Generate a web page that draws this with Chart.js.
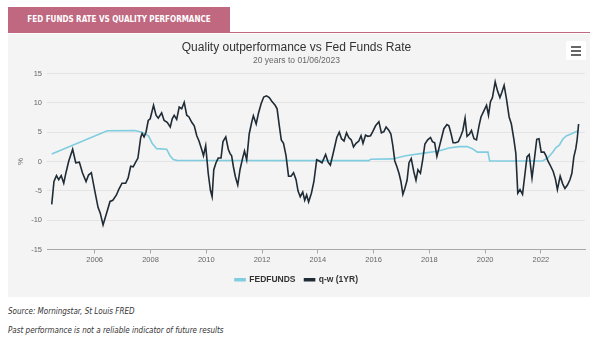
<!DOCTYPE html>
<html>
<head>
<meta charset="utf-8">
<script src="https://cdn.jsdelivr.net/npm/chart.js@4.4.0/dist/chart.umd.min.js"></script>
<style>
  html, body { margin: 0; padding: 0; background: #fff; }
  body { width: 600px; height: 349px; position: relative; overflow: hidden; font-family: "Liberation Sans", Arial, sans-serif; }
  .tab {
    position: absolute; left: 8px; top: 7px; width: 222px; height: 25px;
    background: #c0687f; color: #fff;
    font-family: "Liberation Sans Narrow", "DejaVu Sans Condensed", sans-serif;
    font-weight: bold; font-size: 8px; line-height: 25px; text-align: center;
  }
  .rule { position: absolute; left: 8px; top: 32px; width: 582px; height: 1px; background: #c0687f; }
  .panel { position: absolute; left: 8px; top: 34px; width: 582px; height: 263px; background: #f4f4f4; }
  .menu {
    position: absolute; left: 566px; top: 41px; width: 20px; height: 19px;
    background: #fff; border-radius: 2px;
  }
  .menu span { position: absolute; left: 5px; width: 10px; height: 2px; background: #666; }
  .note {
    position: absolute; left: 8px; font-style: italic; color: #333;
    font-family: "Liberation Sans Narrow", "DejaVu Sans Condensed", sans-serif; font-size: 8px;
  }
</style>
</head>
<body>
<div class="tab">FED FUNDS RATE VS QUALITY PERFORMANCE</div>
<div class="rule"></div>
<div class="panel"><canvas id="rate-chart"></canvas></div>
<div class="menu"><span style="top:5px"></span><span style="top:9px"></span><span style="top:13px"></span></div>
<div class="note" style="top:307px">Source: Morningstar, St Louis FRED</div>
<div class="note" style="top:326px">Past performance is not a reliable indicator of future results</div>

<script>
// q-w (1YR): quality minus world, rolling 1 year, %
var qwYears = [
    2004.46, 2004.54, 2004.63, 2004.71, 2004.80, 2004.89, 2004.97, 2005.07, 2005.21, 2005.32,
    2005.45, 2005.56, 2005.69, 2005.78, 2005.88, 2006.00, 2006.12, 2006.20, 2006.30, 2006.42,
    2006.55, 2006.65, 2006.78, 2006.86, 2006.98, 2007.11, 2007.20, 2007.29, 2007.38, 2007.46,
    2007.55, 2007.65, 2007.70, 2007.77, 2007.84, 2007.92, 2007.99, 2008.11, 2008.20, 2008.28,
    2008.40, 2008.49, 2008.60, 2008.71, 2008.78, 2008.85, 2008.94, 2009.03, 2009.12, 2009.21,
    2009.30, 2009.38, 2009.48, 2009.57, 2009.66, 2009.74, 2009.84, 2009.90, 2009.98, 2010.07,
    2010.15, 2010.21, 2010.27, 2010.35, 2010.43, 2010.53, 2010.60, 2010.70, 2010.79, 2010.85,
    2010.91, 2010.97, 2011.04, 2011.13, 2011.21, 2011.30, 2011.37, 2011.45, 2011.54, 2011.63,
    2011.69, 2011.79, 2011.87, 2011.97, 2012.06, 2012.16, 2012.26, 2012.35, 2012.47, 2012.54,
    2012.62, 2012.69, 2012.77, 2012.86, 2012.95, 2013.04, 2013.13, 2013.22, 2013.29, 2013.37,
    2013.46, 2013.53, 2013.60, 2013.67, 2013.77, 2013.86, 2013.96, 2014.05, 2014.15, 2014.28,
    2014.37, 2014.45, 2014.57, 2014.68, 2014.77, 2014.85, 2014.94, 2015.03, 2015.11, 2015.20,
    2015.28, 2015.37, 2015.47, 2015.55, 2015.62, 2015.71, 2015.80, 2015.89, 2015.97, 2016.07,
    2016.19, 2016.28, 2016.37, 2016.45, 2016.55, 2016.62, 2016.69, 2016.76, 2016.83, 2016.91,
    2016.98, 2017.05, 2017.12, 2017.20, 2017.27, 2017.35, 2017.44, 2017.52, 2017.59, 2017.68,
    2017.76, 2017.84, 2017.94, 2018.04, 2018.11, 2018.19, 2018.27, 2018.34, 2018.43, 2018.52,
    2018.63, 2018.70, 2018.78, 2018.85, 2018.94, 2019.04, 2019.13, 2019.20, 2019.28, 2019.35,
    2019.44, 2019.51, 2019.60, 2019.69, 2019.78, 2019.85, 2019.95, 2020.05, 2020.12, 2020.19,
    2020.26, 2020.36, 2020.44, 2020.53, 2020.60, 2020.68, 2020.76, 2020.86, 2020.94, 2021.03,
    2021.10, 2021.17, 2021.25, 2021.34, 2021.43, 2021.50, 2021.58, 2021.68, 2021.75, 2021.85,
    2021.93, 2022.01, 2022.11, 2022.18, 2022.25, 2022.35, 2022.44, 2022.52, 2022.59, 2022.69,
    2022.78, 2022.86, 2022.95, 2023.04, 2023.11, 2023.18, 2023.25, 2023.30, 2023.35
];
var qwValues = [
    -7.3, -3.4, -2.4, -3.1, -2.4, -3.7, -1.9, 0.1, 2.1, -0.2,
    -0.1, -1.9, -3.4, -2.3, -1.9, -4.9, -7.8, -8.8, -10.8, -8.9,
    -6.8, -6.6, -5.7, -4.8, -3.7, -3.7, -2.8, -0.8, -0.9, -0.2,
    0.6, 4.1, 4.8, 4.2, 5.0, 7.0, 7.3, 9.6, 7.9, 7.4,
    8.3, 7.0, 6.7, 5.9, 7.3, 7.9, 7.2, 9.3, 9.0, 10.1,
    7.9, 7.6, 6.7, 6.1, 4.4, 3.5, 2.0, 1.0, 2.7, -2.0,
    -4.9, -6.0, -1.4, -0.2, 0.6, 0.6, 3.4, 4.2, 2.1, 1.4,
    1.0, -0.8, -2.5, -4.0, -1.4, 0.5, 1.8, 0.3, 4.7, 6.7,
    7.8, 6.4, 8.2, 9.9, 11.0, 11.2, 10.9, 10.3, 9.6, 9.0,
    6.1, 3.7, 3.1, 1.0, -2.5, -2.5, -1.9, -3.1, -5.0, -6.0,
    -5.2, -6.6, -5.7, -6.9, -5.4, -3.4, 0.3, 0.1, -0.2, 1.2,
    -0.1, -0.6, 1.8, 4.1, 5.0, 3.9, 3.5, 4.9, 4.1, 3.7,
    2.5, 3.1, 3.5, 4.4, 3.1, 4.5, 4.3, 4.4, 5.1, 6.1,
    6.8, 4.9, 5.1, 5.9, 5.3, 4.7, 2.7, 0.1, -0.8, -2.0,
    -3.4, -5.6, -4.6, -3.2, -0.2, 0.5, -1.7, -3.2, -1.4, -2.0,
    0.3, 3.0, 3.7, 4.1, 3.4, 3.2, 0.9, 2.2, 3.9, 5.6,
    6.3, 6.1, 4.7, 3.2, 3.2, 3.4, 4.4, 5.3, 7.4, 4.3,
    4.7, 5.3, 3.9, 3.7, 6.1, 7.6, 8.6, 9.6, 7.9, 10.2,
    10.9, 13.6, 12.1, 10.9, 11.8, 13.0, 10.8, 7.6, 6.4, 3.8,
    1.4, -5.4, -4.8, -5.6, -2.0, 0.8, 1.2, -2.8, -0.2, 3.8,
    3.9, 1.6, 1.6, 1.0, 0.1, -0.8, -1.7, -3.0, -4.8, -2.5,
    -3.8, -4.6, -4.0, -3.1, -2.0, 0.8, 2.2, 3.8, 6.4
];

// Effective Fed Funds rate, %
var fedYears = [
    2004.46, 2006.45, 2007.44, 2007.62, 2007.80, 2007.94, 2008.06, 2008.22, 2008.58, 2008.70,
    2008.82, 2008.94, 2015.83, 2015.90, 2016.67, 2017.15, 2017.74, 2018.34, 2018.70, 2019.06,
    2019.36, 2019.54, 2019.72, 2020.10, 2020.16, 2022.06, 2022.24, 2022.42, 2022.54, 2022.66,
    2022.78, 2022.92, 2023.08, 2023.35
];
var fedValues = [
    1.3, 5.25, 5.3, 5.1, 4.8, 4.3, 3.1, 2.2, 2.1, 1.0,
    0.35, 0.2, 0.15, 0.4, 0.45, 1.0, 1.4, 1.8, 2.3, 2.55,
    2.55, 2.2, 1.6, 1.6, 0.1, 0.1, 0.6, 1.6, 2.4, 2.8,
    3.8, 4.4, 4.7, 5.3
];

var yearTicks = [2006, 2008, 2010, 2012, 2014, 2016, 2018, 2020, 2022];

function toPoints(xs, ys) {
    var pts = [];
    for (var i = 0; i < xs.length; i++) {
        pts.push({ x: xs[i], y: ys[i] });
    }
    return pts;
}

var fedColor = '#80cde0',
    qwColor = '#1f2b35';

var rateChart = new Chart(document.getElementById('rate-chart'), {
    type: 'line',
    data: {
        datasets: [
            {
                label: 'FEDFUNDS',
                data: toPoints(fedYears, fedValues),
                borderColor: fedColor,
                backgroundColor: fedColor,
                borderWidth: 1.6,
                pointRadius: 0,
                tension: 0,
                order: 1
            },
            {
                label: 'q-w (1YR)',
                data: toPoints(qwYears, qwValues),
                borderColor: qwColor,
                backgroundColor: qwColor,
                borderWidth: 1.6,
                pointRadius: 0,
                tension: 0,
                order: 0
            }
        ]
    },
    options: {
        responsive: true,
        maintainAspectRatio: false,
        animation: false,
        layout: { padding: { left: 0, right: 5, top: 0, bottom: 3 } },
        plugins: {
            title: {
                display: true,
                text: 'Quality outperformance vs Fed Funds Rate',
                color: '#333',
                font: { family: '"Liberation Sans", Arial, sans-serif', size: 12, weight: 'normal' },
                padding: { top: 6, bottom: 1 }
            },
            subtitle: {
                display: true,
                text: '20 years to 01/06/2023',
                color: '#666',
                font: { family: '"Liberation Sans", Arial, sans-serif', size: 8.5 },
                padding: { top: 0, bottom: 8 }
            },
            legend: {
                position: 'bottom',
                labels: {
                    boxWidth: 10,
                    boxHeight: 2,
                    color: '#333',
                    font: { family: '"Liberation Sans", Arial, sans-serif', size: 8.5, weight: 'bold' },
                    padding: 9,
                    sort: function (a, b) { return a.datasetIndex - b.datasetIndex; }
                }
            },
            tooltip: { enabled: false }
        },
        scales: {
            x: {
                type: 'linear',
                min: 2004.29,
                max: 2023.58,
                afterBuildTicks: function (scale) {
                    scale.ticks = yearTicks.map(function (v) { return { value: v }; });
                },
                ticks: {
                    color: '#666',
                    font: { family: '"Liberation Sans", Arial, sans-serif', size: 7.5 },
                    padding: 2,
                    maxRotation: 0,
                    callback: function (v) { return String(v); }
                },
                grid: {
                    drawOnChartArea: false,
                    drawTicks: true,
                    tickLength: 4,
                    color: '#a8a8a8'
                },
                border: { display: true, color: '#a8a8a8', width: 1 }
            },
            y: {
                min: -15,
                max: 15,
                afterFit: function (scale) { scale.width = 39; },
                ticks: {
                    stepSize: 5,
                    color: '#666',
                    font: { family: '"Liberation Sans", Arial, sans-serif', size: 7.5 },
                    padding: 5
                },
                grid: { color: '#e4e4e4', drawTicks: false },
                border: { display: false },
                title: {
                    display: true,
                    text: '%',
                    color: '#666',
                    font: { family: '"Liberation Sans", Arial, sans-serif', size: 8 },
                    padding: { top: 8, bottom: 0 }
                }
            }
        }
    }
});
</script>
</body>
</html>
